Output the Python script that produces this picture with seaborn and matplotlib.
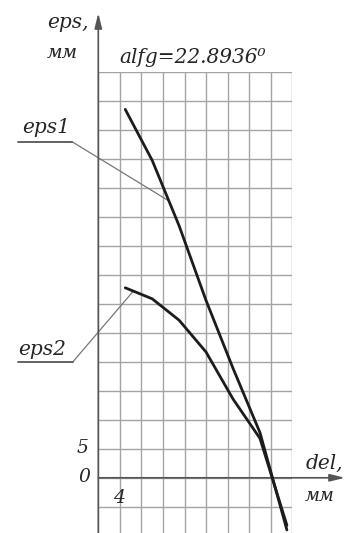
import numpy as np
import pandas as pd
import matplotlib
matplotlib.use("Agg")
import matplotlib.pyplot as plt
import seaborn as sns

# ---- data ----
dels = [5, 10, 15, 20, 25, 30, 35]
eps1 = [63.6, 54.8, 43.5, 30.6, 18.9, 7.8, -9.0]
eps2 = [32.8, 30.9, 27.2, 21.7, 13.6, 6.8, -8.2]
title_text = "alfg=22.8936\u2070"
x_label = "del,"
y_label = "eps,"
unit = "мм"
tick_y = ["5", "0"]
tick_x = ["4"]

W, H = 358, 533
sns.set_theme(style="white")
plt.rcParams["font.family"] = ["DejaVu Serif", "DejaVu Sans"]

fig = plt.figure(figsize=(W / 100, H / 100), dpi=100)
fig.patch.set_facecolor("white")

def P(x, y):
    return (x / W, 1 - y / H)

ax = fig.add_axes([98.3 / W, 0, (292.3 - 98.3) / W, (H - 72.3) / H])
ax.set_xlim(0, 36)
ax.set_ylim(-9.53, 70)

df = pd.DataFrame({"del": dels * 2,
                   "eps": eps1 + eps2,
                   "curve": ["eps1"] * len(dels) + ["eps2"] * len(dels)})
sns.lineplot(data=df, x="del", y="eps", hue="curve",
             palette={"eps1": "#1c1c1c", "eps2": "#1c1c1c"},
             linewidth=2.0, legend=False, ax=ax, clip_on=False, zorder=5)

for s in ax.spines.values():
    s.set_visible(False)
ax.set_xticks(np.arange(0, 37, 4))
ax.set_yticks(np.arange(-5, 71, 5))
ax.tick_params(length=0, labelbottom=False, labelleft=False)
ax.set_xlabel("")
ax.set_ylabel("")
ax.grid(True, color="#a4a4a4", linewidth=1.0)
ax.set_axisbelow(True)

# axes with arrows
ax.annotate("", xy=(0, 1 - 13 / H), xycoords=("data", "figure fraction"),
            xytext=(0, -9.53), textcoords="data",
            arrowprops=dict(arrowstyle="-|>,head_length=0.9,head_width=0.22",
                            color="#555555", lw=1.2, shrinkA=0, shrinkB=0,
                            mutation_scale=10), zorder=4, annotation_clip=False)
ax.annotate("", xy=(345 / W, 0), xycoords=("figure fraction", "data"),
            xytext=(0, 0), textcoords="data",
            arrowprops=dict(arrowstyle="-|>,head_length=0.9,head_width=0.22",
                            color="#555555", lw=1.2, shrinkA=0, shrinkB=0,
                            mutation_scale=10), zorder=4, annotation_clip=False)

tc = "#262626"
fs = 14.5
def T(x, y, s, size=fs, ha="left", va="baseline"):
    fig.text(*P(x, y), s, fontsize=size, style="italic", color=tc, ha=ha, va=va)

T(47, 28, y_label)
T(47, 58, unit, size=13.5)
T(119, 63, title_text, size=14.5)
T(306, 469, x_label)
T(305, 501, unit, size=13)
T(83, 448, tick_y[0], size=13.5, ha="center", va="center")
T(84, 477, tick_y[1], size=13.5, ha="center", va="center")
T(119, 498, tick_x[0], size=13.5, ha="center", va="center")

# curve labels with underline + leader line
T(22, 133, "eps1")
T(18, 355, "eps2")
fig.add_artist(plt.Line2D([18 / W, 72 / W], [1 - 141.7 / H] * 2, color="#555555", lw=1.3))
fig.add_artist(plt.Line2D([18 / W, 73 / W], [1 - 361.7 / H] * 2, color="#555555", lw=1.3))
x1 = 13.1
x2 = 6.5
ax.annotate("", xy=(x1, np.interp(x1, dels, eps1)), xycoords="data",
            xytext=P(72, 141.7), textcoords="figure fraction",
            arrowprops=dict(arrowstyle="-", color="#777777", lw=0.9,
                            shrinkA=0, shrinkB=0), annotation_clip=False)
ax.annotate("", xy=(x2, np.interp(x2, dels, eps2)), xycoords="data",
            xytext=P(73, 361.7), textcoords="figure fraction",
            arrowprops=dict(arrowstyle="-", color="#777777", lw=0.9,
                            shrinkA=0, shrinkB=0), annotation_clip=False)

fig.savefig("out.png", dpi=100, facecolor="white")
